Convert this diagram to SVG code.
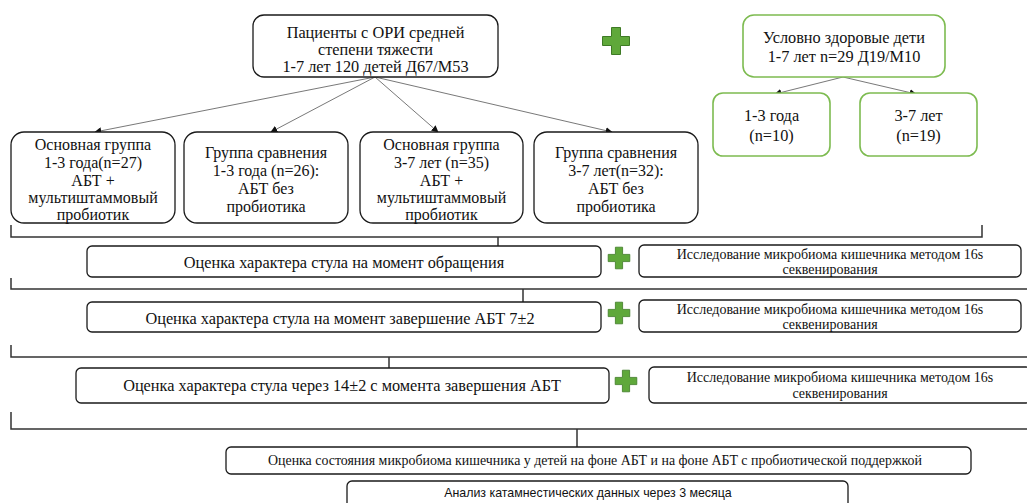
<svg xmlns="http://www.w3.org/2000/svg" width="1027" height="503" viewBox="0 0 1027 503">
<style>
.box{fill:#fff;stroke:#1a1a1a;stroke-width:1.3}
.gbox{fill:#fff;stroke:#7dbb50;stroke-width:1.6}
.t{font-family:"Liberation Serif","Times New Roman",serif;font-size:16.3px;fill:#111;text-anchor:middle}
.g{font-family:"Liberation Serif","Times New Roman",serif;font-size:16px;fill:#111;text-anchor:middle}
.s{font-family:"Liberation Serif","Times New Roman",serif;font-size:14px;fill:#111;text-anchor:middle}
.sans{font-family:"Liberation Sans",Arial,sans-serif;font-size:12.4px;fill:#111;text-anchor:middle}
.arr{stroke:#555;stroke-width:0.8;fill:none;marker-end:url(#ah)}
.br{stroke:#333;stroke-width:1.5;fill:none}
.plus{fill:#5fa83a;stroke:#3e7a25;stroke-width:1}
</style>
<defs>
<marker id="ah" viewBox="0 0 10 10" refX="9" refY="5" markerWidth="7" markerHeight="7" markerUnits="userSpaceOnUse" orient="auto">
<path d="M0,0 L10,5 L0,10 z" fill="#111"/>
</marker>
<path id="pl" d="M-4.5,-13.5 H4.5 V-4.5 H13.5 V4.5 H4.5 V13.5 H-4.5 V4.5 H-13.5 V-4.5 H-4.5 Z"/>
</defs>

<g id="connectors">
<line class="arr" x1="375" y1="77" x2="95" y2="132"/>
<line class="arr" x1="375" y1="77" x2="271" y2="132"/>
<line class="arr" x1="375" y1="77" x2="438" y2="132"/>
<line class="arr" x1="375" y1="77" x2="612" y2="132"/>
<line class="arr" x1="843" y1="77" x2="775" y2="94"/>
<line class="arr" x1="843" y1="77" x2="916" y2="94"/>
<path class="br" d="M11,225 V237 H982 V225 M498,237 V246"/>
<path class="br" d="M11,278 V289 H1027 M523,289 V302"/>
<path class="br" d="M11,345 V357 H1027 M389,357 V368"/>
<path class="br" d="M11,412 V429 H1027 M577,429 V447"/>
</g>

<g id="patients">
<rect class="box" x="253" y="15" width="245" height="62" rx="11"/>
<text class="t" x="375.5" y="38">Пациенты с ОРИ средней</text>
<text class="t" x="375.5" y="55">степени тяжести</text>
<text class="t" x="375.5" y="72">1-7 лет 120 детей Д67/М53</text>
</g>

<g id="plus-top"><use href="#pl" class="plus" transform="translate(616,41)"/></g>

<g id="healthy">
<rect class="gbox" x="743" y="15" width="202" height="62" rx="11"/>
<text class="t" x="844" y="43">Условно здоровые дети</text>
<text class="t" x="844" y="62">1-7 лет n=29 Д19/М10</text>
</g>
<g id="healthy-1-3">
<rect class="gbox" x="713" y="93" width="117" height="63" rx="10"/>
<text class="t" x="771.5" y="121">1-3 года</text>
<text class="t" x="771.5" y="141">(n=10)</text>
</g>
<g id="healthy-3-7">
<rect class="gbox" x="860" y="93" width="117" height="63" rx="10"/>
<text class="t" x="918.5" y="121">3-7 лет</text>
<text class="t" x="918.5" y="141">(n=19)</text>
</g>

<g id="main-1-3">
<rect class="box" x="11" y="132" width="164" height="91" rx="13"/>
<text class="g" x="93" y="150">Основная группа</text>
<text class="g" x="93" y="168">1-3 года(n=27)</text>
<text class="g" x="93" y="186">АБТ +</text>
<text class="g" x="93" y="203">мультиштаммовый</text>
<text class="g" x="93" y="220">пробиотик</text>
</g>
<g id="comp-1-3">
<rect class="box" x="184" y="132" width="164" height="91" rx="13"/>
<text class="g" x="266" y="158">Группа сравнения</text>
<text class="g" x="266" y="176">1-3 года (n=26):</text>
<text class="g" x="266" y="194">АБТ без</text>
<text class="g" x="266" y="212">пробиотика</text>
</g>
<g id="main-3-7">
<rect class="box" x="360" y="132" width="163" height="91" rx="13"/>
<text class="g" x="441.5" y="150">Основная группа</text>
<text class="g" x="441.5" y="168">3-7 лет (n=35)</text>
<text class="g" x="441.5" y="186">АБТ +</text>
<text class="g" x="441.5" y="203">мультиштаммовый</text>
<text class="g" x="441.5" y="220">пробиотик</text>
</g>
<g id="comp-3-7">
<rect class="box" x="534" y="132" width="164" height="91" rx="13"/>
<text class="g" x="616" y="158">Группа сравнения</text>
<text class="g" x="616" y="176">3-7 лет(n=32):</text>
<text class="g" x="616" y="194">АБТ без</text>
<text class="g" x="616" y="212">пробиотика</text>
</g>

<g id="stool-1">
<rect class="box" x="87" y="246" width="514" height="31" rx="5"/>
<text class="t" x="344" y="268">Оценка характера стула на момент обращения</text>
</g>
<g id="plus-1"><use href="#pl" class="plus" transform="translate(619,258) scale(0.8)"/></g>
<g id="micro-1">
<rect class="box" x="639" y="245" width="382" height="32" rx="5"/>
<text class="s" x="830" y="259">Исследование микробиома кишечника методом 16s</text>
<text class="s" x="830" y="274">секвенирования</text>
</g>

<g id="stool-2">
<rect class="box" x="87" y="302" width="514" height="30" rx="5"/>
<text class="t" x="340" y="324">Оценка характера стула на момент завершение АБТ 7±2</text>
</g>
<g id="plus-2"><use href="#pl" class="plus" transform="translate(619,313) scale(0.8)"/></g>
<g id="micro-2">
<rect class="box" x="639" y="300" width="382" height="32" rx="5"/>
<text class="s" x="830" y="314">Исследование микробиома кишечника методом 16s</text>
<text class="s" x="830" y="329">секвенирования</text>
</g>

<g id="stool-3">
<rect class="box" x="76" y="368" width="533" height="35" rx="5"/>
<text class="t" x="342" y="391">Оценка характера стула через 14±2 с момента завершения АБТ</text>
</g>
<g id="plus-3"><use href="#pl" class="plus" transform="translate(626,381) scale(0.8)"/></g>
<g id="micro-3">
<rect class="box" x="649" y="367" width="382" height="36" rx="5"/>
<text class="s" x="840" y="382">Исследование микробиома кишечника методом 16s</text>
<text class="s" x="840" y="398">секвенирования</text>
</g>

<g id="microbiome-assessment">
<rect class="box" x="226" y="447" width="745" height="27" rx="5"/>
<text class="s" x="595" y="465" textLength="654" lengthAdjust="spacingAndGlyphs">Оценка состояния микробиома кишечника у детей на фоне АБТ и на фоне АБТ с пробиотической поддержкой</text>
</g>
<g id="catamnesis">
<rect class="box" x="347" y="481" width="501" height="30" rx="5"/>
<text class="sans" x="588" y="497">Анализ катамнестических данных через 3 месяца</text>
</g>
</svg>
